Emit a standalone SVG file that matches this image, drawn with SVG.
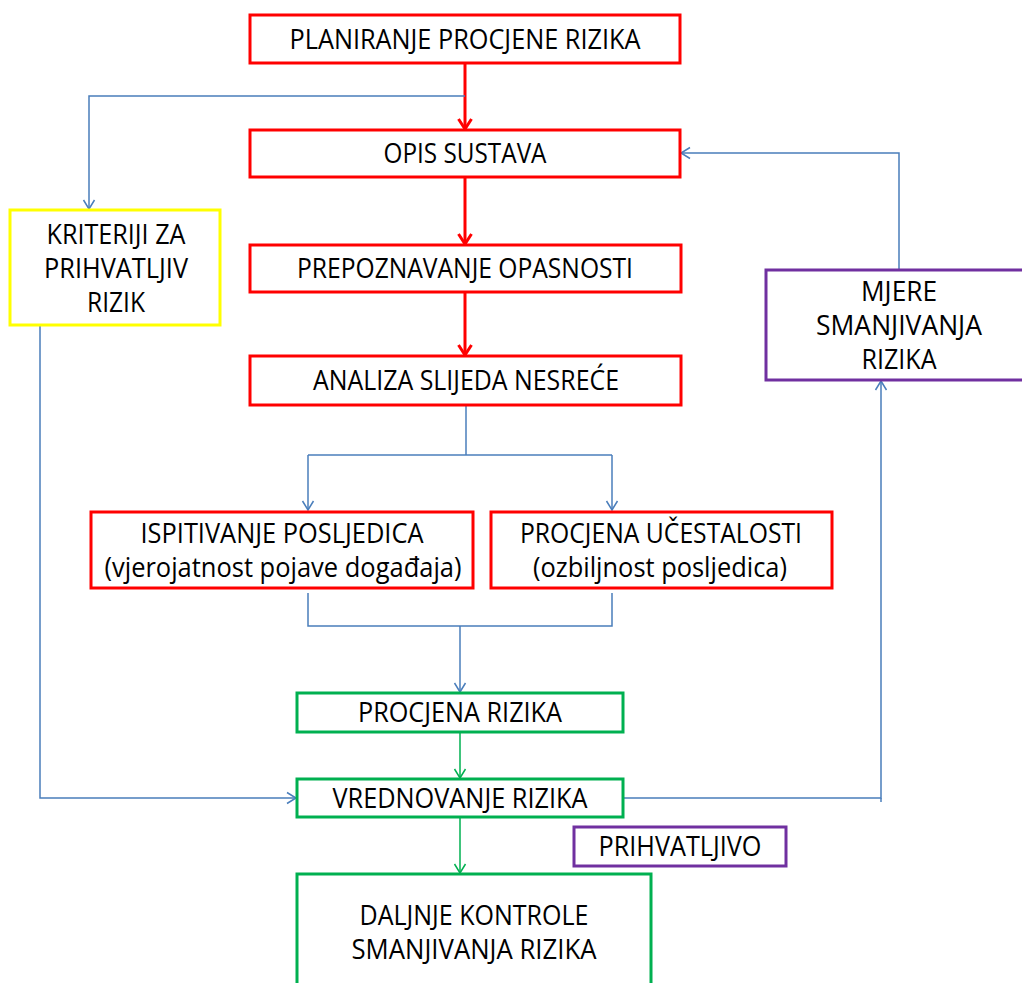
<svg xmlns="http://www.w3.org/2000/svg" width="1022" height="983" viewBox="0 0 1022 983">
<defs>
<style>
.t{font-family:"Open Sans","Liberation Sans",Arial,sans-serif;font-size:27px;fill:#000;text-anchor:middle}
.red{fill:#fff;stroke:#ff0000;stroke-width:3}
.grn{fill:#fff;stroke:#00b050;stroke-width:3}
.pur{fill:#fff;stroke:#7030a0;stroke-width:3}
.yel{fill:#fff;stroke:#ffff00;stroke-width:3}
.cb{fill:none;stroke:#4a7ebb;stroke-width:1.5}
.cg{fill:none;stroke:#00b050;stroke-width:1.5}
.cr{fill:none;stroke:#ff0000;stroke-width:3}
</style>
<marker id="ab" markerUnits="userSpaceOnUse" markerWidth="14" markerHeight="14" refX="10" refY="7" orient="auto">
<path d="M1,1.5 L10,7 L1,12.5" fill="none" stroke="#4a7ebb" stroke-width="1.5"/>
</marker>
<marker id="ag" markerUnits="userSpaceOnUse" markerWidth="14" markerHeight="14" refX="10" refY="7" orient="auto">
<path d="M1,1.5 L10,7 L1,12.5" fill="none" stroke="#00b050" stroke-width="1.5"/>
</marker>
<marker id="ar" markerUnits="userSpaceOnUse" markerWidth="16" markerHeight="16" refX="12" refY="8" orient="auto">
<path d="M2,1.5 L12,8 L2,14.5" fill="none" stroke="#ff0000" stroke-width="3"/>
</marker>
</defs>
<rect width="1022" height="983" fill="#fff"/>
<g id="connectors">
<path class="cr" d="M465,64 V129" marker-end="url(#ar)"/>
<path class="cr" d="M465,178 V244" marker-end="url(#ar)"/>
<path class="cr" d="M465,293 V355" marker-end="url(#ar)"/>
<path class="cb" d="M465,96 H89 V209" marker-end="url(#ab)"/>
<path class="cb" d="M899,269 V153 H681" marker-end="url(#ab)"/>
<path class="cb" d="M466,406 V455"/>
<path class="cb" d="M308,455 H612"/>
<path class="cb" d="M308,455 V510" marker-end="url(#ab)"/>
<path class="cb" d="M612,455 V510" marker-end="url(#ab)"/>
<path class="cb" d="M308,593 V626 H612 V593"/>
<path class="cb" d="M460,626 V692" marker-end="url(#ab)"/>
<path class="cg" d="M460,733 V778" marker-end="url(#ag)"/>
<path class="cg" d="M460,818 V873" marker-end="url(#ag)"/>
<path class="cb" d="M40,326 V798 H296" marker-end="url(#ab)"/>
<path class="cb" d="M623,798 H881 V381" marker-end="url(#ab)"/>
<path class="cb" d="M881,798 V802"/>
</g>
<g id="n-planiranje">
<rect class="red" x="250" y="15" width="430" height="48"/>
<text class="t" x="465" y="49" textLength="351" lengthAdjust="spacingAndGlyphs">PLANIRANJE PROCJENE RIZIKA</text>
</g>
<g id="n-opis">
<rect class="red" x="250" y="130" width="430" height="47"/>
<text class="t" x="465" y="163" textLength="163" lengthAdjust="spacingAndGlyphs">OPIS SUSTAVA</text>
</g>
<g id="n-prepoznavanje">
<rect class="red" x="250" y="245" width="431" height="47"/>
<text class="t" x="465" y="278" textLength="336" lengthAdjust="spacingAndGlyphs">PREPOZNAVANJE OPASNOSTI</text>
</g>
<g id="n-analiza">
<rect class="red" x="250" y="356" width="431" height="49"/>
<text class="t" x="466" y="390" textLength="306" lengthAdjust="spacingAndGlyphs">ANALIZA SLIJEDA NESREĆE</text>
</g>
<g id="n-kriteriji">
<rect class="yel" x="10" y="210" width="210" height="115"/>
<text class="t" x="116" y="244" textLength="139" lengthAdjust="spacingAndGlyphs">KRITERIJI ZA</text>
<text class="t" x="116" y="278" textLength="144" lengthAdjust="spacingAndGlyphs">PRIHVATLJIV</text>
<text class="t" x="116" y="312" textLength="58" lengthAdjust="spacingAndGlyphs">RIZIK</text>
</g>
<g id="n-mjere">
<rect class="pur" x="766" y="270" width="262" height="110"/>
<text class="t" x="899" y="301" textLength="76" lengthAdjust="spacingAndGlyphs">MJERE</text>
<text class="t" x="899" y="335" textLength="166" lengthAdjust="spacingAndGlyphs">SMANJIVANJA</text>
<text class="t" x="899" y="369" textLength="75" lengthAdjust="spacingAndGlyphs">RIZIKA</text>
</g>
<g id="n-ispitivanje">
<rect class="red" x="91" y="512" width="382" height="76"/>
<text class="t" x="282" y="543" textLength="283" lengthAdjust="spacingAndGlyphs">ISPITIVANJE POSLJEDICA</text>
<text class="t" x="283" y="577" textLength="357" lengthAdjust="spacingAndGlyphs">(vjerojatnost pojave događaja)</text>
</g>
<g id="n-ucestalost">
<rect class="red" x="491" y="512" width="341" height="76"/>
<text class="t" x="661" y="543" textLength="282" lengthAdjust="spacingAndGlyphs">PROCJENA UČESTALOSTI</text>
<text class="t" x="660" y="577" textLength="254" lengthAdjust="spacingAndGlyphs">(ozbiljnost posljedica)</text>
</g>
<g id="n-procjena">
<rect class="grn" x="297" y="693" width="326" height="39"/>
<text class="t" x="460" y="722" textLength="204" lengthAdjust="spacingAndGlyphs">PROCJENA RIZIKA</text>
</g>
<g id="n-vrednovanje">
<rect class="grn" x="297" y="779" width="326" height="38"/>
<text class="t" x="460" y="808" textLength="255" lengthAdjust="spacingAndGlyphs">VREDNOVANJE RIZIKA</text>
</g>
<g id="n-prihvatljivo">
<rect class="pur" x="574" y="827" width="212" height="39"/>
<text class="t" x="680" y="856" textLength="163" lengthAdjust="spacingAndGlyphs">PRIHVATLJIVO</text>
</g>
<g id="n-daljnje">
<rect class="grn" x="297" y="874" width="354" height="130"/>
<text class="t" x="474" y="925" textLength="229" lengthAdjust="spacingAndGlyphs">DALJNJE KONTROLE</text>
<text class="t" x="474" y="959" textLength="245" lengthAdjust="spacingAndGlyphs">SMANJIVANJA RIZIKA</text>
</g>
</svg>
